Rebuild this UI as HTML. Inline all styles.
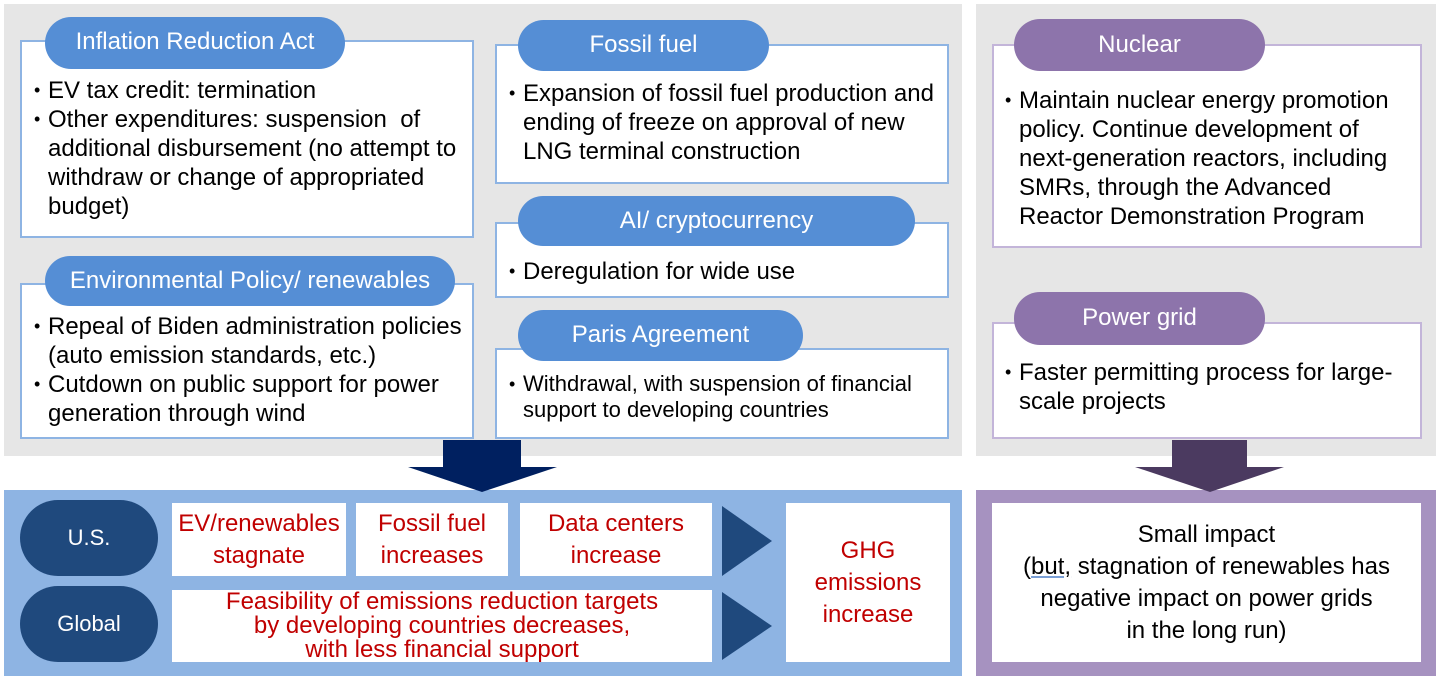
<!DOCTYPE html>
<html><head><meta charset="utf-8"><style>
*{margin:0;padding:0;box-sizing:border-box}
body{width:1440px;height:680px;background:#fff;position:relative;overflow:hidden;font-family:"Liberation Sans",Arial,sans-serif;color:#000}
.a{position:absolute}
.gray{background:#e6e6e6}
.box{position:absolute;background:#fff;border:2px solid #8eb4e3}
.pbox{position:absolute;background:#fff;border:2px solid #c3b5d9}
.pill{position:absolute;background:#558ed5;color:#fff;border-radius:26px;font-size:24px;text-align:center}
.ppill{position:absolute;background:#8d74ab;color:#fff;border-radius:26px;font-size:24px;text-align:center}
.t{position:absolute;font-size:24px;line-height:29px;white-space:nowrap}
.t .li{position:relative;padding-left:26px}
.t .li:before{content:"•";position:absolute;left:12px;font-size:18px}
.w{position:absolute;background:#fff;color:#c00000;font-size:24px;text-align:center;display:flex;align-items:center;justify-content:center;line-height:32px}
.ov{position:absolute;background:#1f497d;color:#fff;border-radius:38px/38px;font-size:22px;display:flex;align-items:center;justify-content:center}
</style></head><body>
<div class="a gray" style="left:4px;top:4px;width:958px;height:452px"></div>
<div class="a gray" style="left:976px;top:4px;width:460px;height:452px"></div>

<div class="box" style="left:20px;top:40px;width:454px;height:198px"></div>
<div class="pill" style="left:45px;top:17px;width:300px;height:52px;line-height:50px">Inflation Reduction Act</div>
<div class="t" style="left:22px;top:76px"><div class="li">EV tax credit: termination</div><div class="li">Other expenditures: suspension&nbsp; of<br>additional disbursement (no attempt to<br>withdraw or change of appropriated<br>budget)</div></div>

<div class="box" style="left:20px;top:283px;width:454px;height:156px"></div>
<div class="pill" style="left:45px;top:256px;width:410px;height:50px;line-height:50px">Environmental Policy/ renewables</div>
<div class="t" style="left:22px;top:312px"><div class="li">Repeal of Biden administration policies<br>(auto emission standards, etc.)</div><div class="li">Cutdown on public support for power<br>generation through wind</div></div>

<div class="box" style="left:495px;top:44px;width:454px;height:140px"></div>
<div class="pill" style="left:518px;top:20px;width:251px;height:51px;line-height:50px">Fossil fuel</div>
<div class="t" style="left:497px;top:79px"><div class="li">Expansion of fossil fuel production and<br>ending of freeze on approval of new<br>LNG terminal construction</div></div>

<div class="box" style="left:495px;top:222px;width:454px;height:76px"></div>
<div class="pill" style="left:518px;top:196px;width:397px;height:50px;line-height:50px">AI/ cryptocurrency</div>
<div class="t" style="left:497px;top:257px"><div class="li">Deregulation for wide use</div></div>

<div class="box" style="left:495px;top:348px;width:454px;height:91px"></div>
<div class="pill" style="left:518px;top:310px;width:285px;height:51px;line-height:50px">Paris Agreement</div>
<div class="t" style="left:497px;top:371px;font-size:22px;line-height:26px"><div class="li">Withdrawal, with suspension of financial<br>support to developing countries</div></div>

<div class="pbox" style="left:992px;top:44px;width:430px;height:204px"></div>
<div class="ppill" style="left:1014px;top:19px;width:251px;height:52px;line-height:52px">Nuclear</div>
<div class="t" style="left:993px;top:86px"><div class="li">Maintain nuclear energy promotion<br>policy. Continue development of<br>next-generation reactors, including<br>SMRs, through the Advanced<br>Reactor Demonstration Program</div></div>

<div class="pbox" style="left:992px;top:322px;width:430px;height:117px"></div>
<div class="ppill" style="left:1014px;top:292px;width:251px;height:53px;line-height:52px">Power grid</div>
<div class="t" style="left:993px;top:358px"><div class="li">Faster permitting process for large-<br>scale projects</div></div>

<div class="a" style="left:4px;top:490px;width:958px;height:186px;background:#8eb4e3"></div>
<div class="a" style="left:976px;top:490px;width:460px;height:186px;background:#a692c0"></div>
<svg class="a" style="left:0;top:0" width="1440" height="680">
<polygon points="443,440 521,440 521,467 557,467 482,492 408,467 443,467" fill="#002060"/>
<polygon points="1172,440 1247,440 1247,467 1284,467 1210,492 1135,467 1172,467" fill="#4b3a60"/>
<polygon points="722,506 772,541 722,576" fill="#1f497d"/>
<polygon points="722,592 772,626 722,660" fill="#1f497d"/>
</svg>
<div class="ov" style="left:20px;top:500px;width:138px;height:76px">U.S.</div>
<div class="ov" style="left:20px;top:586px;width:138px;height:76px">Global</div>
<div class="w" style="left:172px;top:503px;width:174px;height:73px">EV/renewables<br>stagnate</div>
<div class="w" style="left:356px;top:503px;width:152px;height:73px">Fossil fuel<br>increases</div>
<div class="w" style="left:520px;top:503px;width:192px;height:73px">Data centers<br>increase</div>
<div class="w" style="left:172px;top:590px;width:540px;height:72px;line-height:24px">Feasibility of emissions reduction targets<br>by developing countries decreases,<br>with less financial support</div>
<div class="w" style="left:786px;top:503px;width:164px;height:159px">GHG<br>emissions<br>increase</div>
<div class="w" style="left:992px;top:503px;width:429px;height:159px;color:#000;line-height:32px"><span>Small impact<br>(<u style="text-decoration-color:#7a9fd6">but,</u> stagnation of renewables has<br>negative impact on power grids<br>in the long run)</span></div>
</body></html>
